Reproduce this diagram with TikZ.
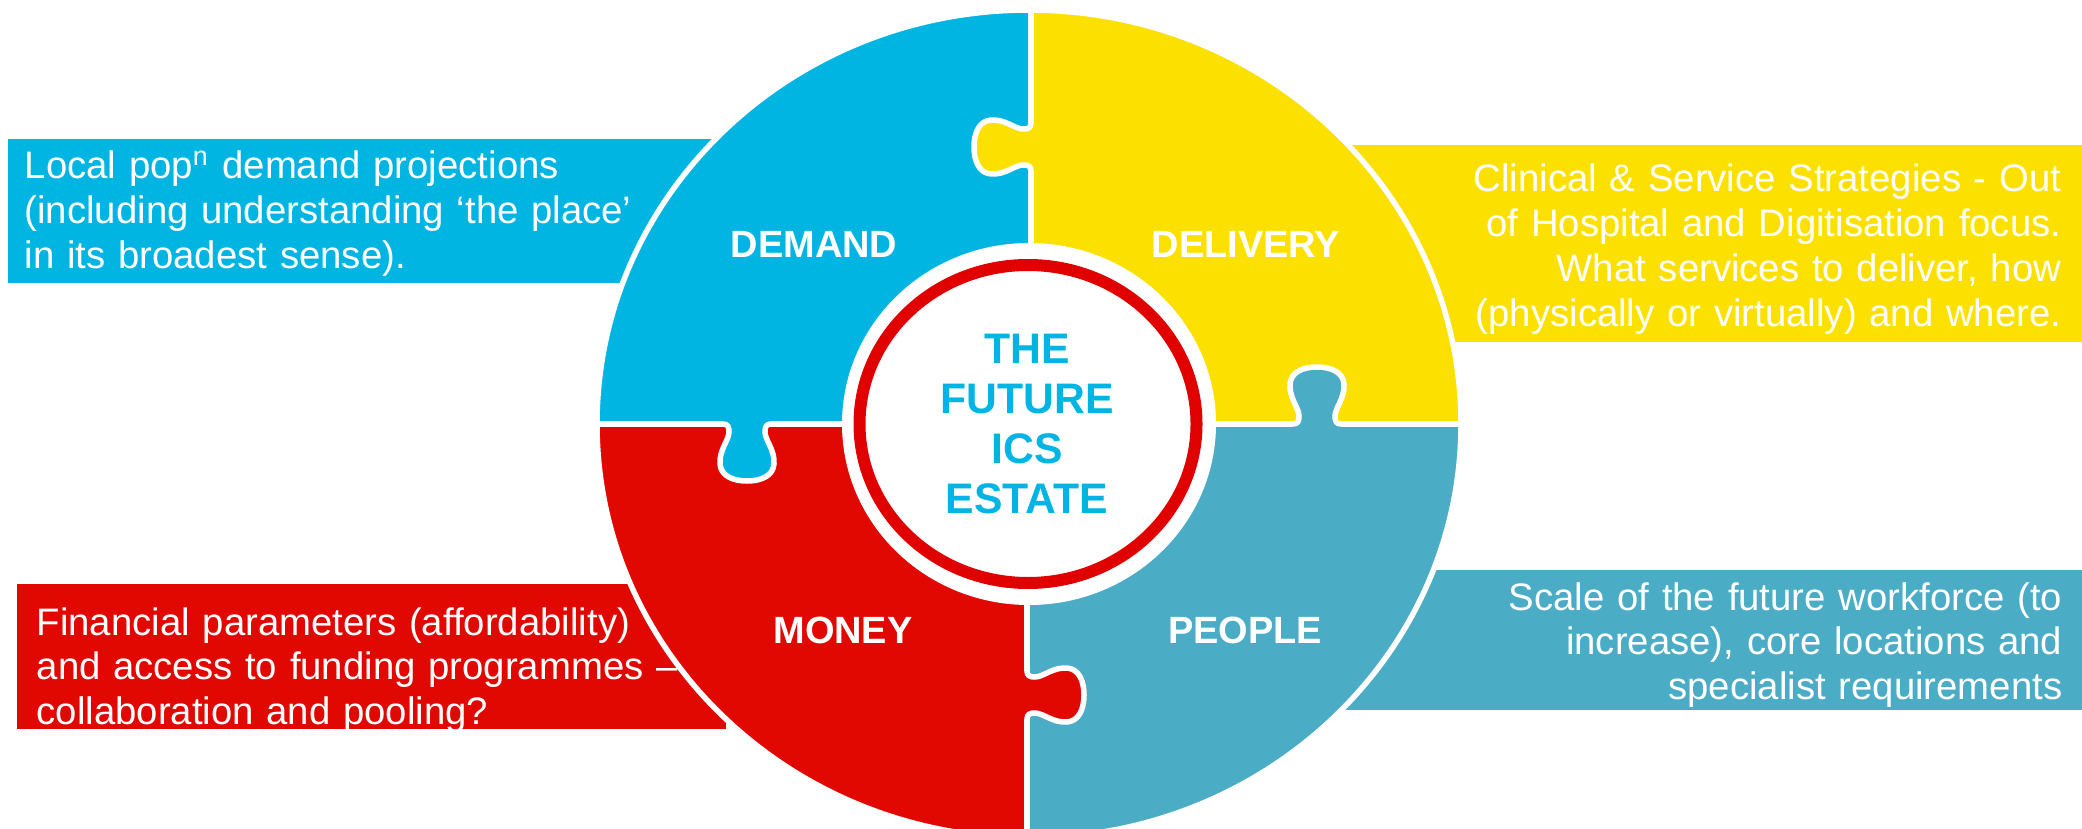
\documentclass[tikz,border=0pt]{standalone}
\usepackage{fontspec}
\setmainfont{Liberation Sans}

\definecolor{demandblue}{RGB}{0,181,226}
\definecolor{deliveryyellow}{RGB}{252,225,0}
\definecolor{moneyred}{RGB}{224,8,0}
\definecolor{peopleteal}{RGB}{75,172,198}
\definecolor{ringred}{RGB}{224,0,0}
\definecolor{estateblue}{RGB}{0,180,228}

% jigsaw tab, seam along the x-axis, sticking out towards +y
\newcommand\knob{(-0.24,0) .. controls (-0.19,0) and (-0.18,0.03) .. (-0.18,0.08)
  .. controls (-0.18,0.16) and (-0.28,0.26) .. (-0.27,0.40)
  .. controls (-0.26,0.52) and (-0.14,0.57) .. (0,0.57)
  .. controls (0.14,0.57) and (0.26,0.52) .. (0.27,0.40)
  .. controls (0.28,0.26) and (0.18,0.16) .. (0.18,0.08)
  .. controls (0.18,0.03) and (0.19,0) .. (0.24,0)}

\begin{document}
\begin{tikzpicture}[
  seam/.style={white, line width=0.055cm, line join=round, line cap=round},
  infotext/.style={white, inner sep=0pt, text width=7cm,
    font=\fontsize{10.9}{12.8}\selectfont},
  piecelabel/.style={white, inner sep=0pt, font=\bfseries\fontsize{10.8}{13}\selectfont}]
\clip (0,0) rectangle (20.82,8.28);
\fill[white] (0,0) rectangle (20.82,8.28);
% side panels, they run in under the wheel
\fill[demandblue] (0.08,5.45) rectangle (7.5,6.89);
\fill[deliveryyellow] (12.5,4.86) rectangle (20.82,6.83);
\fill[moneyred] (0.17,0.99) rectangle (7.26,2.44);
\fill[peopleteal] (13.0,1.18) rectangle (20.82,2.58);
% the four quarters
\fill[demandblue] (10.29,4.04) -- (10.29,8.18) arc[start angle=90, end angle=180, x radius=4.32, y radius=4.14] -- cycle;
\fill[deliveryyellow] (10.29,4.04) -- (14.61,4.04) arc[start angle=0, end angle=90, x radius=4.32, y radius=4.14] -- cycle;
\fill[moneyred] (10.29,4.04) -- (5.97,4.04) arc[start angle=180, end angle=270, x radius=4.32, y radius=4.14] -- cycle;
\fill[peopleteal] (10.29,4.04) -- (10.29,-0.10) arc[start angle=270, end angle=360, x radius=4.32, y radius=4.14] -- cycle;
\draw[seam] (10.29,4.04) ellipse [x radius=4.32, y radius=4.14];
\draw[seam] (5.9,4.04) -- (14.7,4.04);
\draw[seam] (10.31,4.04) -- (10.31,8.3);
\draw[seam] (10.27,4.04) -- (10.27,-0.2);
% tabs
\begin{scope}[shift={(10.31,6.81)}, rotate=90]
  \fill[deliveryyellow] (-0.24,-0.06) -- \knob -- (0.24,-0.06) -- cycle;
  \draw[seam] \knob;
\end{scope}
\begin{scope}[shift={(7.47,4.04)}, rotate=180]
  \fill[demandblue] (-0.24,-0.06) -- \knob -- (0.24,-0.06) -- cycle;
  \draw[seam] \knob;
\end{scope}
\begin{scope}[shift={(13.17,4.04)}]
  \fill[peopleteal] (-0.24,-0.06) -- \knob -- (0.24,-0.06) -- cycle;
  \draw[seam] \knob;
\end{scope}
\begin{scope}[shift={(10.27,1.33)}, rotate=-90]
  \fill[moneyred] (-0.24,-0.06) -- \knob -- (0.24,-0.06) -- cycle;
  \draw[seam] \knob;
\end{scope}
% hub
\fill[white] (10.29,4.04) ellipse [x radius=1.87, y radius=1.81];
\draw[ringred, line width=0.12cm] (10.28,4.04) ellipse [x radius=1.685, y radius=1.59];
\node[estateblue, inner sep=0pt, text width=3.4cm, align=center, anchor=base,
  font=\bfseries\fontsize{12.15}{14.23}\selectfont] (estate) at (10.27,4.65)
  {THE\\FUTURE\\ICS\\ESTATE};
% piece labels
\node[piecelabel, anchor=base] (demand) at (8.14,5.70) {DEMAND};
\node[piecelabel, anchor=base] (delivery) at (12.46,5.70) {DELIVERY};
\node[piecelabel, anchor=base] (money) at (8.43,1.85) {MONEY};
\node[piecelabel, anchor=base] (people) at (12.45,1.85) {PEOPLE};
% panel texts
\node[infotext, align=left, anchor=base west] (demandtext) at (0.24,6.49)
  {Local pop\textsuperscript{n} demand projections\\(including understanding ‘the place’\\in its broadest sense).};
\node[infotext, align=right, anchor=base east] (deliverytext) at (20.62,6.36)
  {Clinical \& Service Strategies - Out\\of Hospital and Digitisation focus.\\What services to deliver, how\\(physically or virtually) and where.};
\node[infotext, align=left, anchor=base west] (moneytext) at (0.36,1.93)
  {Financial parameters (affordability)\\and access to funding programmes –\\collaboration and pooling?};
\node[infotext, align=right, anchor=base east] (peopletext) at (20.63,2.18)
  {Scale of the future workforce (to\\increase), core locations and\\specialist requirements};
\end{tikzpicture}
\end{document}
